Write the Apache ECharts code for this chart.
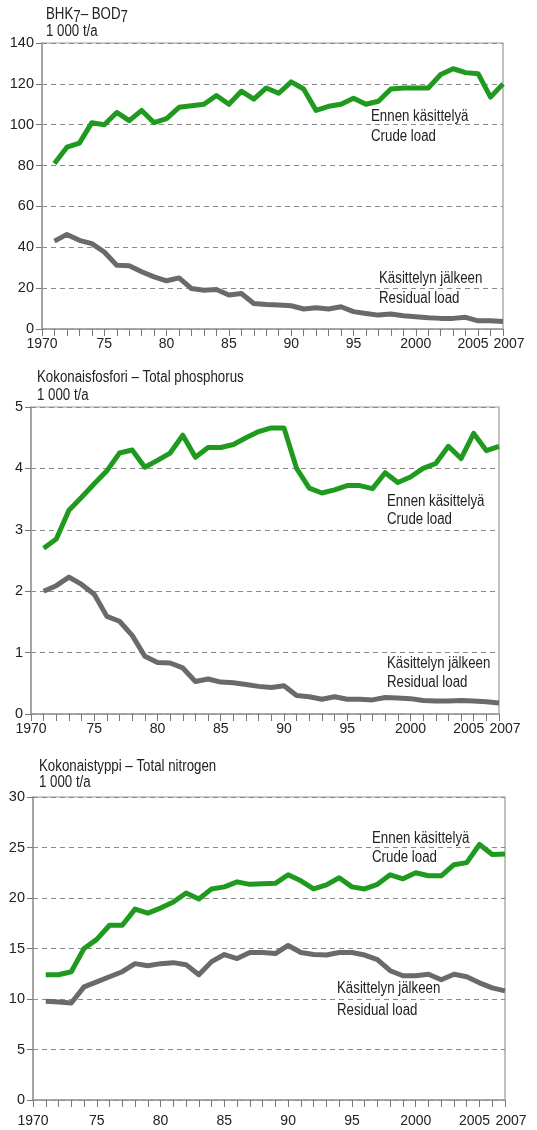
<!DOCTYPE html>
<html>
<head>
<meta charset="utf-8">
<title>Loads</title>
<script src="https://cdn.jsdelivr.net/npm/echarts@6/dist/echarts.min.js"></script>
<style>
  html, body { margin: 0; padding: 0; background: #fff; }
  #chart { width: 537px; height: 1130px; }
</style>
</head>
<body>
<div id="chart"></div>
<script>
//== data (1 000 t/a)
var years = [1971, 1972, 1973, 1974, 1975, 1976, 1977, 1978, 1979, 1980,
    1981, 1982, 1983, 1984, 1985, 1986, 1987, 1988, 1989, 1990,
    1991, 1992, 1993, 1994, 1995, 1996, 1997, 1998, 1999, 2000,
    2001, 2002, 2003, 2004, 2005, 2006, 2007];

var bodCrude = [81, 89, 91, 101, 100, 106, 102, 107, 101, 103,
    108.5, 109.3, 110, 114.3, 110, 116.4, 112.5, 118, 115.4, 121,
    117.5, 107, 109, 110, 113, 110, 111.5, 117.5, 118, 118,
    118, 124.6, 127.4, 125.5, 125, 113.5, 120];
var bodResidual = [43, 46.3, 43.4, 41.8, 37.7, 31.2, 31, 28, 25.5, 23.6,
    25, 19.8, 19, 19.3, 16.6, 17.4, 12.5, 12, 11.7, 11.4,
    9.8, 10.4, 9.8, 10.9, 8.5, 7.6, 6.8, 7.3, 6.5, 6,
    5.5, 5.2, 5.2, 5.7, 4, 4, 3.7];

var pCrude = [2.7, 2.85, 3.32, 3.53, 3.75, 3.96, 4.25, 4.3, 4.02, 4.13,
    4.25, 4.54, 4.18, 4.34, 4.34, 4.39, 4.5, 4.6, 4.66, 4.66,
    4.0, 3.68, 3.6, 3.65, 3.72, 3.72, 3.67, 3.93, 3.77, 3.86,
    4.0, 4.08, 4.36, 4.16, 4.57, 4.29, 4.36];
var pResidual = [2.0, 2.09, 2.23, 2.11, 1.95, 1.59, 1.51, 1.28, 0.94, 0.84,
    0.83, 0.75, 0.53, 0.57, 0.52, 0.51, 0.48, 0.45, 0.43, 0.46,
    0.3, 0.28, 0.24, 0.28, 0.24, 0.24, 0.23, 0.27, 0.26, 0.25,
    0.22, 0.21, 0.21, 0.22, 0.21, 0.2, 0.18];

var nCrude = [12.4, 12.4, 12.7, 15.0, 15.9, 17.3, 17.3, 18.9, 18.5, 19.0,
    19.6, 20.5, 19.9, 20.9, 21.1, 21.6, 21.35, 21.4, 21.45, 22.3,
    21.7, 20.9, 21.3, 22.0, 21.1, 20.9, 21.35, 22.3, 21.9, 22.5,
    22.2, 22.2, 23.3, 23.5, 25.3, 24.3, 24.35];
var nResidual = [9.77, 9.7, 9.6, 11.2, 11.7, 12.2, 12.7, 13.5, 13.3, 13.5,
    13.6, 13.4, 12.4, 13.7, 14.4, 14.0, 14.6, 14.6, 14.5, 15.3,
    14.6, 14.4, 14.35, 14.6, 14.6, 14.35, 13.9, 12.8, 12.3, 12.3,
    12.45, 11.9, 12.45, 12.2, 11.6, 11.1, 10.8];

//== x tick labels
var xLabelYears = [1970, 1975, 1980, 1985, 1990, 1995, 2000, 2005, 2007];
var xLabelTexts = ['1970', '75', '80', '85', '90', '95', '2000', '{l|2005}', '{r|2007}'];

//== y scales per panel
var yMax = [140, 5, 30];
var yStep = [20, 1, 5];

var FONT = '"Liberation Sans", Arial, sans-serif';
var GREEN = '#1f9a1f';
var GREY = '#6a6a6a';
var AXIS = '#9a9a9a';
var NARROW = 0.83;   // the print uses a condensed face

var grids = [
    {left: 42, right: 34, top: 43, height: 286, labelMargin: 8},
    {left: 31, right: 38, top: 407, height: 307, labelMargin: 8},
    {left: 33, right: 32, top: 797, height: 303, labelMargin: 14}
];

var pairs = function (values) {
    var out = [];
    for (var i = 0; i < years.length; i++) {
        out.push([years[i], values[i]]);
    }
    return out;
};

var makeXAxis = function (idx) {
    return {
        type: 'value',
        gridIndex: idx,
        min: 1970,
        max: 2007,
        interval: 1,
        axisLine: {lineStyle: {color: AXIS, width: 1.5}},
        axisTick: {length: 7, lineStyle: {color: '#777', width: 1}},
        splitLine: {show: false},
        axisLabel: {
            color: '#222',
            fontFamily: FONT,
            fontSize: 14,
            margin: grids[idx].labelMargin,
            showMaxLabel: true,
            showMinLabel: true,
            rich: {
                l: {fontFamily: FONT, fontSize: 14, color: '#222', padding: [0, 10, 0, 0]},
                r: {fontFamily: FONT, fontSize: 14, color: '#222', padding: [0, 0, 0, 12]}
            },
            formatter: function (v) {
                var k = xLabelYears.indexOf(Math.round(v));
                return k < 0 ? '' : xLabelTexts[k];
            }
        }
    };
};

var makeYAxis = function (idx) {
    return {
        type: 'value',
        gridIndex: idx,
        min: 0,
        max: yMax[idx],
        interval: yStep[idx],
        axisLine: {show: true, lineStyle: {color: AXIS, width: 1.5}},
        axisTick: {show: true, length: 6, lineStyle: {color: '#777'}},
        splitLine: {lineStyle: {color: '#8a8a8a', type: [5, 4], width: 1}},
        axisLabel: {color: '#222', fontFamily: FONT, fontSize: 14.5, margin: 8}
    };
};

var makeSeries = function (idx, values, color) {
    return {
        type: 'line',
        xAxisIndex: idx,
        yAxisIndex: idx,
        data: pairs(values),
        symbol: 'none',
        lineStyle: {color: color, width: 5, join: 'round'},
        z: color === GREEN ? 4 : 3,
        silent: true,
        animation: false
    };
};

// condensed look: squeeze the text horizontally around its left edge
var textItem = function (x, y, text, size) {
    return {
        type: 'text',
        x: x,
        y: y,
        scaleX: NARROW,
        silent: true,
        style: {
            x: 0,
            y: 0,
            text: text,
            fill: '#222',
            font: (size || 16) + 'px ' + FONT,
            verticalAlign: 'middle'
        }
    };
};

var richTitle = {
    type: 'text',
    x: 46,
    y: 15,
    scaleX: NARROW,
    silent: true,
    style: {
        x: 0,
        y: 0,
        text: 'BHK{s|7}– BOD{s|7}',
        fill: '#222',
        font: '16px ' + FONT,
        verticalAlign: 'middle',
        rich: {
            s: {fontSize: 16, fontFamily: FONT, fill: '#222', padding: [5, 0, 0, 0]}
        }
    }
};

var chart = echarts.init(document.getElementById('chart'), null, {renderer: 'canvas'});

var gridList = [];
for (var g = 0; g < grids.length; g++) {
    gridList.push({
        left: grids[g].left,
        right: grids[g].right,
        top: grids[g].top,
        height: grids[g].height,
        show: true,
        borderColor: AXIS,
        borderWidth: 1.2,
        backgroundColor: 'transparent'
    });
}

chart.setOption({
    backgroundColor: '#fff',
    animation: false,
    grid: gridList,
    xAxis: [makeXAxis(0), makeXAxis(1), makeXAxis(2)],
    yAxis: [makeYAxis(0), makeYAxis(1), makeYAxis(2)],
    series: [
        makeSeries(0, bodResidual, GREY),
        makeSeries(0, bodCrude, GREEN),
        makeSeries(1, pResidual, GREY),
        makeSeries(1, pCrude, GREEN),
        makeSeries(2, nResidual, GREY),
        makeSeries(2, nCrude, GREEN)
    ],
    graphic: [
        richTitle,
        textItem(46, 32, '1 000 t/a'),
        textItem(37, 378, 'Kokonaisfosfori – Total phosphorus'),
        textItem(37, 396, '1 000 t/a'),
        textItem(39, 767, 'Kokonaistyppi – Total nitrogen'),
        textItem(39, 783, '1 000 t/a'),

        textItem(371, 117, 'Ennen käsittelyä'),
        textItem(371, 137, 'Crude load'),
        textItem(379, 279, 'Käsittelyn jälkeen'),
        textItem(379, 299, 'Residual load'),

        textItem(387, 502, 'Ennen käsittelyä'),
        textItem(387, 520, 'Crude load'),
        textItem(387, 664, 'Käsittelyn jälkeen'),
        textItem(387, 683, 'Residual load'),

        textItem(372, 839, 'Ennen käsittelyä'),
        textItem(372, 858, 'Crude load'),
        textItem(337, 989, 'Käsittelyn jälkeen'),
        textItem(337, 1011, 'Residual load')
    ]
});
</script>
</body>
</html>
